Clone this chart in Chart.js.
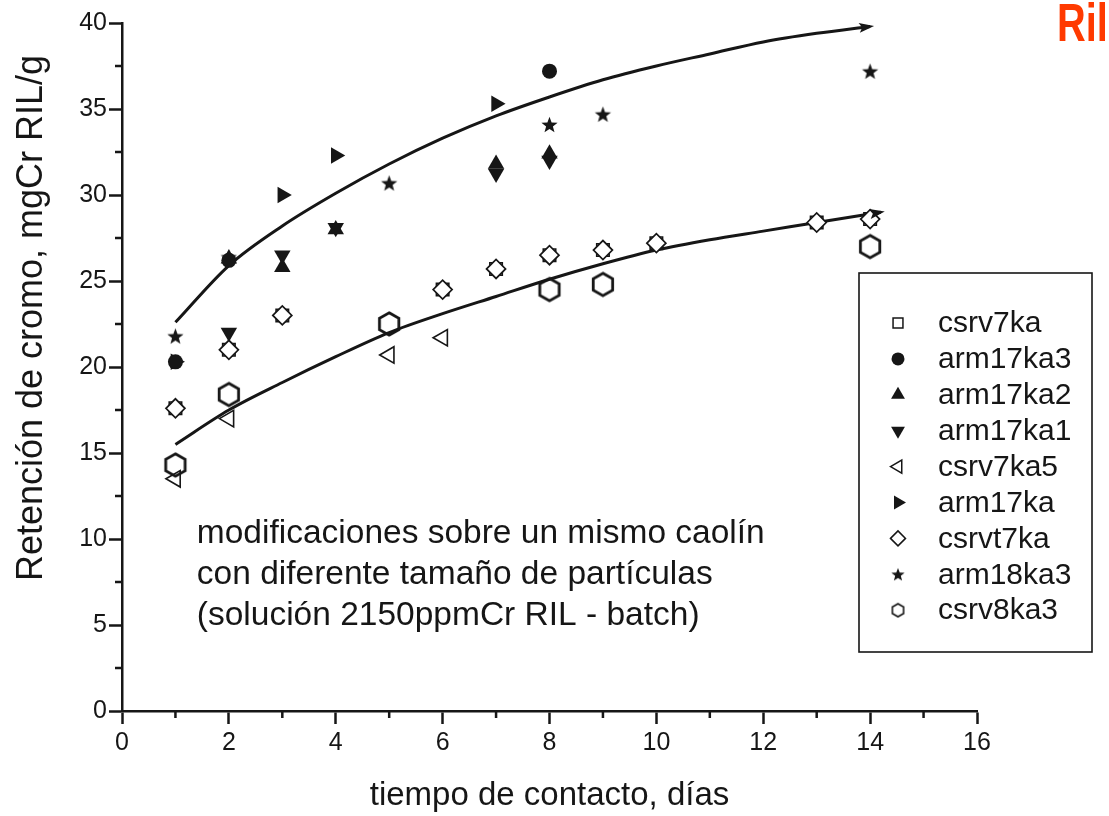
<!DOCTYPE html>
<html>
<head>
<meta charset="utf-8">
<title>Retención de cromo</title>
<script src="https://cdn.jsdelivr.net/npm/chart.js@4.4.1/dist/chart.umd.min.js"></script>
<style>
    html, body { margin: 0; padding: 0; background: #ffffff; }
    #wrap { position: relative; width: 1109px; height: 816px; overflow: hidden; }
    #ril {
        position: absolute; left: 1057px; top: -8px;
        font: bold 53px "Liberation Sans", Arial, sans-serif;
        color: #ff3a00;
        transform: scaleX(0.75); transform-origin: left top;
    }
</style>
</head>
<body>
<div id="wrap">
    <canvas id="chart" width="1109" height="816"></canvas>
    <div id="ril">Ril</div>
</div>
<script>
// Contact time (days) vs. chromium retention (mg Cr / g RIL) for each sample
const csrv7kaDays = [1, 2, 3, 6, 7, 8, 9, 10, 13, 14];
const csrv7kaValues = [17.6, 21.0, 23.0, 24.5, 25.7, 26.5, 26.8, 27.2, 28.4, 28.6];

const arm17ka3Days = [1, 2, 8];
const arm17ka3Values = [20.3, 26.2, 37.2];

const arm17ka2Days = [2, 3, 4, 7, 8];
const arm17ka2Values = [26.3, 25.8, 28.0, 31.8, 32.4];

const arm17ka1Days = [2, 3, 4, 7, 8];
const arm17ka1Values = [22.0, 26.5, 28.1, 31.25, 32.0];

const csrv7ka5Days = [1, 2, 5, 6];
const csrv7ka5Values = [13.5, 17.0, 20.7, 21.7];

const arm17kaDays = [1, 3, 4, 7];
const arm17kaValues = [20.3, 30.0, 32.3, 35.3];

const csrvt7kaDays = [1, 2, 3, 6, 7, 8, 9, 10, 13, 14];
const csrvt7kaValues = [17.6, 21.0, 23.0, 24.5, 25.7, 26.5, 26.8, 27.2, 28.4, 28.6];

const arm18ka3Days = [1, 2, 5, 8, 9, 14];
const arm18ka3Values = [21.8, 26.4, 30.7, 34.1, 34.7, 37.2];

const csrv8ka3Days = [1, 2, 5, 8, 9, 14];
const csrv8ka3Values = [14.3, 18.4, 22.5, 24.5, 24.8, 27.0];

// Hand-drawn trend curves (upper: arm* samples, lower: csrv* samples)
const upperTrendDays = [1, 2, 3, 4, 5, 6, 7, 8, 9, 10, 11, 12, 13, 14];
const upperTrendValues = [22.6, 25.9, 28.2, 30.1, 31.8, 33.3, 34.6, 35.7, 36.7, 37.5, 38.2, 38.9, 39.4, 39.8];

const lowerTrendDays = [1, 2, 3, 4, 5, 6, 7, 8, 9, 10, 11, 12, 13, 14.2];
const lowerTrendValues = [15.5, 17.5, 19.1, 20.6, 22.0, 23.1, 24.1, 25.1, 26.0, 26.8, 27.4, 27.9, 28.4, 29.0];

const xTickValues = [0, 2, 4, 6, 8, 10, 12, 14, 16];
const yTickValues = [0, 5, 10, 15, 20, 25, 30, 35, 40];

const noteLines = [
    'modificaciones sobre un mismo caolín',
    'con diferente tamaño de partículas',
    '(solución 2150ppmCr RIL - batch)'
];

const INK = '#161616';
const FONT = '"Liberation Sans", Arial, sans-serif';

function toPoints(days, values) {
    return days.map((d, i) => ({ x: d, y: values[i] }));
}

// Filled five-point star, drawn once to a canvas and used as a point style
function makeStarMarker(outer) {
    const inner = outer * 0.42;
    const size = Math.ceil(outer * 2 + 4);
    const c = document.createElement('canvas');
    c.width = size;
    c.height = size;
    const ctx = c.getContext('2d');
    ctx.translate(size / 2, size / 2 + outer * 0.1);
    ctx.beginPath();
    for (let i = 0; i < 10; i++) {
        const r = i % 2 ? inner : outer;
        const a = -Math.PI / 2 + i * Math.PI / 5;
        ctx.lineTo(r * Math.cos(a), r * Math.sin(a));
    }
    ctx.closePath();
    ctx.fillStyle = INK;
    ctx.fill();
    return c;
}

// Open hexagon with pointed top and bottom
function makeHexMarker(radius, lineWidth) {
    const size = Math.ceil(radius * 2 + lineWidth * 2 + 2);
    const c = document.createElement('canvas');
    c.width = size;
    c.height = size;
    const ctx = c.getContext('2d');
    ctx.translate(size / 2, size / 2);
    ctx.beginPath();
    for (let i = 0; i < 6; i++) {
        const a = -Math.PI / 2 + i * Math.PI / 3;
        ctx.lineTo(radius * Math.cos(a), radius * Math.sin(a));
    }
    ctx.closePath();
    ctx.lineWidth = lineWidth;
    ctx.lineJoin = 'miter';
    ctx.strokeStyle = INK;
    ctx.stroke();
    return c;
}

const starMarker = makeStarMarker(8.5);
const hexMarker = makeHexMarker(11.2, 2.8);
const starLegend = makeStarMarker(7);
const hexLegend = makeHexMarker(6.5, 1.6);

const OPEN = 'rgba(255,255,255,0)';
const WHITE = '#ffffff';

// Marker description for each sample, shared by the datasets and the legend box.
// The csrvt7ka diamonds sit on top of the csrv7ka squares (order -1).
const series = [
    { label: 'csrv7ka', days: csrv7kaDays, values: csrv7kaValues, style: 'rect', rotation: 0, radius: 8.8, fill: OPEN, border: 1.6, legendRadius: 7 },
    { label: 'arm17ka3', days: arm17ka3Days, values: arm17ka3Values, style: 'circle', rotation: 0, radius: 7.5, fill: INK, border: 0, legendRadius: 6.5 },
    { label: 'arm17ka2', days: arm17ka2Days, values: arm17ka2Values, style: 'triangle', rotation: 0, radius: 9.5, fill: INK, border: 0, legendRadius: 8 },
    { label: 'arm17ka1', days: arm17ka1Days, values: arm17ka1Values, style: 'triangle', rotation: 180, radius: 9.5, fill: INK, border: 0, legendRadius: 8 },
    { label: 'csrv7ka5', days: csrv7ka5Days, values: csrv7ka5Values, style: 'triangle', rotation: 270, radius: 9.5, fill: OPEN, border: 1.6, legendRadius: 7.5 },
    { label: 'arm17ka', days: arm17kaDays, values: arm17kaValues, style: 'triangle', rotation: 90, radius: 9.5, fill: INK, border: 0, legendRadius: 8 },
    { label: 'csrvt7ka', days: csrvt7kaDays, values: csrvt7kaValues, style: 'rectRot', rotation: 0, radius: 9.5, fill: WHITE, border: 1.7, legendRadius: 7.5, order: -1 },
    { label: 'arm18ka3', days: arm18ka3Days, values: arm18ka3Values, style: starMarker, legendStyle: starLegend, rotation: 0, radius: 9, fill: INK, border: 0 },
    { label: 'csrv8ka3', days: csrv8ka3Days, values: csrv8ka3Values, style: hexMarker, legendStyle: hexLegend, rotation: 0, radius: 12, fill: OPEN, border: 0 }
];

const markerDatasets = series.map(s => ({
    label: s.label,
    data: toPoints(s.days, s.values),
    order: s.order || 0,
    pointStyle: s.style,
    pointRotation: s.rotation,
    pointRadius: s.radius,
    pointBackgroundColor: s.fill,
    pointBorderColor: INK,
    pointBorderWidth: s.border,
    showLine: false
}));

const trendDatasets = [
    { label: 'upper trend', data: toPoints(upperTrendDays, upperTrendValues) },
    { label: 'lower trend', data: toPoints(lowerTrendDays, lowerTrendValues) }
].map(d => Object.assign(d, {
    order: 1,
    showLine: true,
    borderColor: INK,
    borderWidth: 3,
    pointRadius: 0,
    cubicInterpolationMode: 'monotone',
    fill: false,
    arrowEnd: true
}));

// Minor ticks between the labelled ones (odd days, every 2.5 units on y)
const minorTicksPlugin = {
    id: 'minorTicks',
    afterDraw(chart) {
        const { ctx, chartArea, scales } = chart;
        ctx.save();
        ctx.strokeStyle = INK;
        ctx.lineWidth = 2.5;
        ctx.beginPath();
        for (let d = 1; d < 16; d += 2) {
            const px = scales.x.getPixelForValue(d);
            ctx.moveTo(px, chartArea.bottom);
            ctx.lineTo(px, chartArea.bottom + 7);
        }
        for (let v = 2.5; v < 40; v += 5) {
            const py = scales.y.getPixelForValue(v);
            ctx.moveTo(chartArea.left - 7, py);
            ctx.lineTo(chartArea.left, py);
        }
        ctx.stroke();
        ctx.restore();
    }
};

// Arrow heads at the end of the trend curves
const arrowPlugin = {
    id: 'trendArrows',
    afterDatasetsDraw(chart) {
        const ctx = chart.ctx;
        chart.data.datasets.forEach((ds, i) => {
            if (!ds.arrowEnd) return;
            const pts = chart.getDatasetMeta(i).data;
            const last = pts[pts.length - 1];
            const prev = pts[pts.length - 2];
            const ang = Math.atan2(last.y - prev.y, last.x - prev.x);
            const tipX = last.x + Math.cos(ang) * 4;
            const tipY = last.y + Math.sin(ang) * 4;
            const len = 15, half = 5;
            ctx.save();
            ctx.translate(tipX, tipY);
            ctx.rotate(ang);
            ctx.beginPath();
            ctx.moveTo(0, 0);
            ctx.lineTo(-len, -half);
            ctx.lineTo(-len + 3, 0);
            ctx.lineTo(-len, half);
            ctx.closePath();
            ctx.fillStyle = INK;
            ctx.fill();
            ctx.restore();
        });
    }
};

// Y axis title, the note inside the plot and the boxed legend
const decorationsPlugin = {
    id: 'decorations',
    afterDraw(chart) {
        const { ctx, scales } = chart;
        ctx.save();
        ctx.fillStyle = INK;

        // y title
        ctx.save();
        ctx.translate(32, 318);
        ctx.rotate(-Math.PI / 2);
        ctx.font = '36px ' + FONT;
        ctx.textAlign = 'center';
        ctx.textBaseline = 'middle';
        ctx.fillText('Retención de cromo, mgCr RIL/g', 0, 0);
        ctx.restore();

        // note text, anchored to the data scales
        ctx.font = '33.5px ' + FONT;
        ctx.textAlign = 'left';
        ctx.textBaseline = 'middle';
        const noteX = scales.x.getPixelForValue(1.4);
        const noteY = scales.y.getPixelForValue(10.3);
        noteLines.forEach((line, i) => {
            ctx.fillText(line, noteX, noteY + i * 41);
        });

        // legend box
        const box = { left: 859, top: 273, right: 1092, bottom: 652 };
        ctx.strokeStyle = INK;
        ctx.lineWidth = 1.6;
        ctx.strokeRect(box.left, box.top, box.right - box.left, box.bottom - box.top);

        ctx.font = '30px ' + FONT;
        series.forEach((s, i) => {
            const y = 323 + i * 35.9;
            const x = 898;
            ctx.fillStyle = s.fill === INK ? INK : 'rgba(0,0,0,0)';
            ctx.strokeStyle = INK;
            ctx.lineWidth = 1.5;
            Chart.helpers.drawPoint(ctx, {
                pointStyle: s.legendStyle || s.style,
                rotation: s.rotation,
                radius: s.legendRadius || 7,
                borderWidth: s.border ? 1.5 : 0
            }, x, y);
            ctx.fillStyle = INK;
            ctx.fillText(s.label, 938, y + 1);
        });
        ctx.restore();
    }
};

function axisTicks(values) {
    return function(scale) {
        scale.ticks = values.map(v => ({ value: v }));
    };
}

const chart = new Chart(document.getElementById('chart'), {
    type: 'scatter',
    data: {
        datasets: markerDatasets.concat(trendDatasets)
    },
    options: {
        responsive: false,
        animation: false,
        events: [],
        layout: {
            padding: { left: 0, right: 132, top: 23, bottom: 0 }
        },
        plugins: {
            legend: { display: false },
            tooltip: { enabled: false }
        },
        scales: {
            x: {
                type: 'linear',
                min: 0,
                max: 16,
                afterBuildTicks: axisTicks(xTickValues),
                afterFit(scale) { scale.height = 105; },
                grid: {
                    drawOnChartArea: false,
                    drawTicks: true,
                    tickLength: 13,
                    tickWidth: 2.5,
                    tickColor: INK
                },
                border: { display: true, color: INK, width: 2.5 },
                ticks: {
                    color: INK,
                    padding: 4,
                    maxRotation: 0,
                    font: { family: FONT, size: 25 }
                },
                title: {
                    display: true,
                    text: 'tiempo de contacto, días',
                    color: INK,
                    padding: 0,
                    font: { family: FONT, size: 33 }
                }
            },
            y: {
                type: 'linear',
                min: 0,
                max: 40,
                afterBuildTicks: axisTicks(yTickValues),
                afterFit(scale) { scale.width = 122; },
                grid: {
                    drawOnChartArea: false,
                    drawTicks: true,
                    tickLength: 13,
                    tickWidth: 2.5,
                    tickColor: INK
                },
                border: { display: true, color: INK, width: 2.5 },
                ticks: {
                    color: INK,
                    padding: 2,
                    font: { family: FONT, size: 25 }
                }
            }
        }
    },
    plugins: [minorTicksPlugin, arrowPlugin, decorationsPlugin]
});
</script>
</body>
</html>
